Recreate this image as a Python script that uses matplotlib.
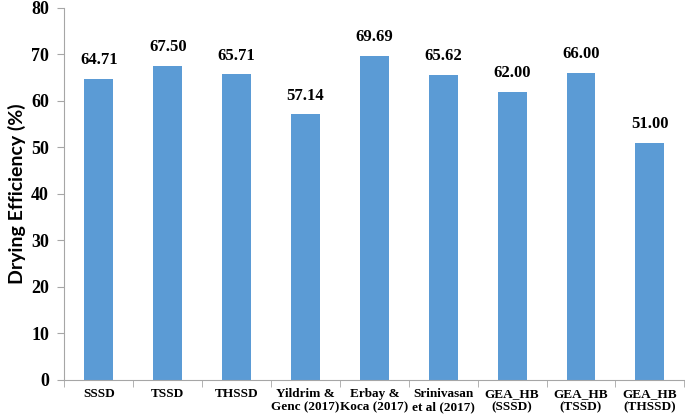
import numpy as np
import matplotlib.pyplot as plt

# data
categories = ["SSSD", "TSSD", "THSSD", "Yildrim &\nGenc (2017)", "Erbay &\nKoca (2017)",
              "Srinivasan\net al (2017)", "GEA_HB\n(SSSD)", "GEA_HB\n(TSSD)", "GEA_HB\n(THSSD)"]
efficiency = [64.71, 67.50, 65.71, 57.14, 69.69, 65.62, 62.00, 66.00, 51.00]

fig = plt.figure(figsize=(6.85, 4.17), dpi=100)
ax = fig.add_axes([0.094, 0.089, 0.905, 0.892])

x = np.arange(len(categories))
ax.bar(x, efficiency, width=0.42, color="#5B9BD5")

for xi, v in zip(x, efficiency):
    ax.text(xi, v + 2.3, "%.2f" % v, ha="center", va="bottom",
            fontsize=12, fontweight="bold", family="Liberation Serif")

ax.set_xlim(-0.5, len(categories) - 0.5)
ax.set_ylim(0, 80)
ax.set_yticks(range(0, 81, 10))
ax.set_yticklabels([str(t) for t in range(0, 81, 10)], fontsize=13,
                   fontweight="bold", family="Liberation Serif")

ax.set_xticks(x)
ax.set_xticklabels(categories, fontsize=9.5, fontweight="bold", family="Liberation Serif",
                   linespacing=1.1)
ax.set_xticks(np.arange(-0.5, len(categories), 1), minor=True)
ax.tick_params(axis="x", which="major", length=0, pad=6)
ax.tick_params(axis="x", which="minor", length=5, color="#A6A6A6")
ax.tick_params(axis="y", length=5, color="#A6A6A6", pad=6)

ax.set_ylabel("Drying Efficiency (%)", fontsize=14, fontweight="bold", family="Lato",
              labelpad=4)

for s in ["top", "right"]:
    ax.spines[s].set_visible(False)
for s in ["left", "bottom"]:
    ax.spines[s].set_color("#A6A6A6")

fig.savefig("out.png", dpi=100)
